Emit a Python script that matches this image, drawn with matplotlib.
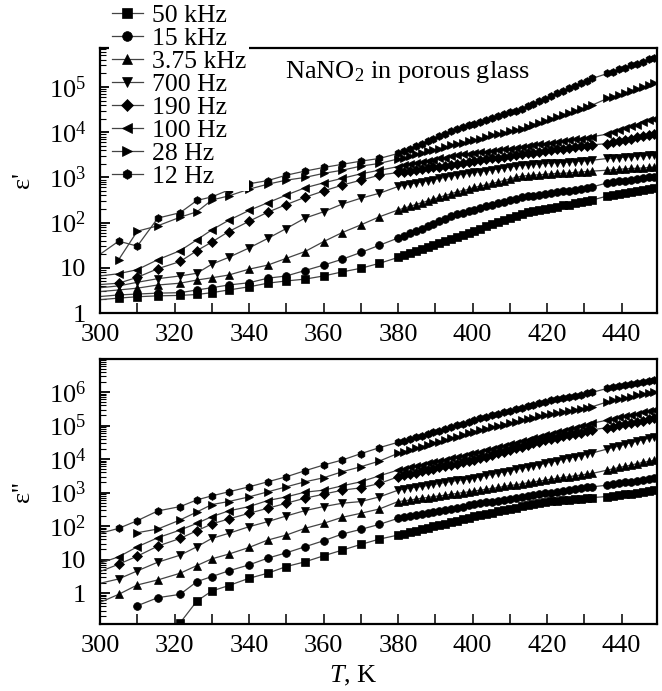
import numpy as np
import matplotlib
matplotlib.use("Agg")
from matplotlib import pyplot as plt
from matplotlib.ticker import MultipleLocator, FixedLocator, LogLocator, NullFormatter, FuncFormatter

nan = np.nan

# temperatures, K (sparse run, then dense run with a gap near 434 K)
T_sparse = [295, 305, 310, 315.5, 321.5, 326, 330, 334.5, 340, 345, 350, 355, 360, 365, 370, 375]
T_dense = [380.0, 381.6, 383.2, 384.7, 386.3, 387.9, 389.5, 391.1, 392.6, 394.2, 395.8,
           397.4, 399.0, 400.5, 402.1, 403.7, 405.3, 406.9, 408.4, 410.0, 411.6, 413.2,
           414.8, 416.3, 417.9, 419.5, 421.1, 422.7, 424.2, 425.8, 427.4, 429.0, 430.6, 432.1,
           436.2, 437.8, 439.4, 440.9, 442.5, 444.1, 445.7, 447.3, 448.8]

labels = ["50 kHz", "15 kHz", "3.75 kHz", "700 Hz", "190 Hz", "100 Hz", "28 Hz", "12 Hz"]
markers = ["s", "o", "^", "v", "D", "<", ">", "h"]

# log10 of eps' (upper panel)
re_50k = [0.26, 0.33, 0.36, 0.38, 0.39, 0.41, 0.45, 0.51, 0.58, 0.66, 0.71, 0.75, 0.82, 0.91, 0.99, 1.10,
          1.23, 1.28, 1.32, 1.37, 1.41, 1.46, 1.50, 1.55, 1.59, 1.64, 1.68, 1.73, 1.77, 1.82, 1.87,
          1.92, 1.96, 2.01, 2.06, 2.11, 2.15, 2.20, 2.23, 2.25, 2.28, 2.30, 2.33, 2.35, 2.38, 2.40,
          2.43, 2.45, 2.48, 2.50, 2.59, 2.61, 2.63, 2.65, 2.68, 2.70, 2.72, 2.74, 2.76]
re_15k = [0.33, 0.40, 0.42, 0.44, 0.45, 0.51, 0.56, 0.62, 0.67, 0.77, 0.82, 0.94, 1.06, 1.19, 1.34, 1.50,
          1.66, 1.71, 1.77, 1.82, 1.87, 1.93, 1.98, 2.03, 2.08, 2.14, 2.19, 2.22, 2.26, 2.29, 2.32,
          2.36, 2.39, 2.43, 2.46, 2.49, 2.53, 2.56, 2.58, 2.60, 2.62, 2.64, 2.66, 2.68, 2.69, 2.71,
          2.73, 2.75, 2.77, 2.79, 2.88, 2.90, 2.92, 2.93, 2.95, 2.97, 2.99, 3.00, 3.02]
re_3k75 = [0.44, 0.51, 0.55, 0.62, 0.66, 0.73, 0.78, 0.84, 0.97, 1.06, 1.21, 1.36, 1.58, 1.78, 1.95, 2.13,
           2.28, 2.32, 2.36, 2.40, 2.44, 2.48, 2.52, 2.56, 2.60, 2.64, 2.68, 2.71, 2.74, 2.78, 2.81,
           2.84, 2.87, 2.90, 2.93, 2.97, 3.00, 3.03, 3.04, 3.05, 3.06, 3.07, 3.08, 3.09, 3.09, 3.10,
           3.11, 3.12, 3.13, 3.14, 3.16, 3.17, 3.18, 3.19, 3.20, 3.20, 3.21, 3.22, 3.23]
re_700 = [0.52, 0.60, 0.68, 0.76, 0.82, 0.88, 1.08, 1.23, 1.44, 1.65, 1.87, 2.10, 2.24, 2.41, 2.54, 2.65,
          2.80, 2.83, 2.85, 2.88, 2.90, 2.93, 2.95, 2.98, 3.00, 3.03, 3.05, 3.07, 3.09, 3.11, 3.13,
          3.15, 3.17, 3.19, 3.21, 3.23, 3.25, 3.27, 3.28, 3.29, 3.30, 3.31, 3.32, 3.33, 3.33, 3.34,
          3.35, 3.36, 3.37, 3.38, 3.42, 3.43, 3.44, 3.45, 3.46, 3.47, 3.48, 3.49, 3.50]
re_190 = [0.60, 0.66, 0.79, 0.98, 1.14, 1.38, 1.57, 1.80, 2.03, 2.23, 2.40, 2.56, 2.70, 2.83, 2.94, 3.05,
          3.11, 3.13, 3.15, 3.17, 3.19, 3.21, 3.22, 3.24, 3.26, 3.28, 3.30, 3.32, 3.34, 3.36, 3.38,
          3.40, 3.42, 3.44, 3.46, 3.48, 3.50, 3.52, 3.54, 3.55, 3.57, 3.59, 3.60, 3.62, 3.64, 3.65,
          3.67, 3.69, 3.70, 3.72, 3.75, 3.78, 3.81, 3.83, 3.86, 3.89, 3.92, 3.94, 3.97]
re_100 = [0.77, 0.87, 0.96, 1.18, 1.38, 1.62, 1.84, 2.05, 2.27, 2.44, 2.61, 2.77, 2.88, 2.98, 3.08, 3.16,
          3.24, 3.27, 3.29, 3.32, 3.34, 3.37, 3.39, 3.42, 3.44, 3.47, 3.49, 3.51, 3.52, 3.54, 3.56,
          3.57, 3.59, 3.60, 3.62, 3.64, 3.65, 3.67, 3.69, 3.71, 3.73, 3.75, 3.77, 3.79, 3.80, 3.82,
          3.84, 3.86, 3.88, 3.90, 3.96, 4.00, 4.05, 4.09, 4.13, 4.17, 4.22, 4.26, 4.30]
re_28 = [nan, 1.18, 1.81, 1.93, 2.12, 2.24, 2.50, 2.59, 2.74, 2.85, 2.94, 3.00, 3.09, 3.16, 3.25, 3.31,
         3.41, 3.44, 3.48, 3.51, 3.54, 3.58, 3.61, 3.64, 3.67, 3.71, 3.74, 3.77, 3.80, 3.83, 3.86,
         3.89, 3.93, 3.96, 3.99, 4.02, 4.05, 4.08, 4.12, 4.17, 4.21, 4.25, 4.30, 4.34, 4.38, 4.43,
         4.47, 4.51, 4.56, 4.60, 4.75, 4.79, 4.83, 4.87, 4.92, 4.96, 5.00, 5.04, 5.08]
re_12 = [1.01, 1.59, 1.48, 2.10, 2.22, 2.49, 2.57, 2.72, 2.86, 2.93, 3.05, 3.14, 3.22, 3.29, 3.36, 3.42,
         3.53, 3.58, 3.64, 3.69, 3.75, 3.80, 3.85, 3.91, 3.96, 4.02, 4.07, 4.11, 4.15, 4.19, 4.23,
         4.27, 4.32, 4.36, 4.40, 4.44, 4.48, 4.52, 4.58, 4.63, 4.69, 4.74, 4.80, 4.86, 4.91, 4.97,
         5.02, 5.08, 5.13, 5.19, 5.30, 5.34, 5.39, 5.43, 5.48, 5.52, 5.56, 5.61, 5.65]

# log10 of eps'' (lower panel)
im_50k = [nan, nan, nan, nan, -0.89, -0.24, 0.06, 0.22, 0.44, 0.59, 0.79, 0.93, 1.11, 1.28, 1.45, 1.61,
          1.73, 1.77, 1.82, 1.86, 1.90, 1.94, 1.99, 2.03, 2.07, 2.12, 2.16, 2.20, 2.24, 2.29, 2.33,
          2.37, 2.40, 2.44, 2.48, 2.51, 2.55, 2.59, 2.62, 2.66, 2.70, 2.73, 2.75, 2.76, 2.78, 2.79,
          2.81, 2.82, 2.84, 2.85, 2.88, 2.90, 2.93, 2.95, 2.97, 3.00, 3.02, 3.04, 3.07]
im_15k = [nan, nan, -0.38, -0.14, -0.04, 0.34, 0.49, 0.66, 0.84, 1.04, 1.20, 1.38, 1.56, 1.76, 1.90, 2.05,
          2.23, 2.26, 2.29, 2.33, 2.36, 2.39, 2.42, 2.45, 2.49, 2.52, 2.55, 2.58, 2.62, 2.65, 2.68,
          2.71, 2.73, 2.76, 2.79, 2.82, 2.84, 2.87, 2.90, 2.93, 2.95, 2.98, 3.00, 3.03, 3.05, 3.08,
          3.10, 3.12, 3.15, 3.17, 3.22, 3.25, 3.27, 3.30, 3.32, 3.35, 3.37, 3.40, 3.42]
im_3k75 = [-0.52, -0.04, 0.24, 0.39, 0.59, 0.82, 1.02, 1.16, 1.36, 1.58, 1.73, 1.93, 2.08, 2.26, 2.38, 2.51,
           2.73, 2.75, 2.78, 2.80, 2.83, 2.85, 2.88, 2.90, 2.92, 2.95, 2.97, 3.00, 3.02, 3.05, 3.07,
           3.10, 3.12, 3.15, 3.18, 3.21, 3.23, 3.26, 3.29, 3.32, 3.34, 3.37, 3.40, 3.42, 3.45, 3.47,
           3.50, 3.52, 3.55, 3.57, 3.67, 3.71, 3.75, 3.78, 3.82, 3.86, 3.90, 3.93, 3.97]
im_700 = [0.16, 0.42, 0.66, 0.92, 1.13, 1.38, 1.63, 1.78, 1.98, 2.13, 2.30, 2.46, 2.58, 2.68, 2.73, 2.87,
          3.07, 3.10, 3.13, 3.16, 3.18, 3.21, 3.24, 3.27, 3.30, 3.33, 3.36, 3.38, 3.41, 3.44, 3.47,
          3.51, 3.54, 3.58, 3.62, 3.65, 3.69, 3.72, 3.76, 3.80, 3.83, 3.87, 3.91, 3.95, 3.99, 4.03,
          4.06, 4.10, 4.14, 4.18, 4.30, 4.35, 4.39, 4.44, 4.49, 4.53, 4.58, 4.62, 4.67]
im_190 = [0.42, 0.86, 1.10, 1.40, 1.63, 1.86, 2.06, 2.21, 2.38, 2.53, 2.68, 2.83, 2.95, 3.07, 3.14, 3.27,
          3.47, 3.51, 3.55, 3.59, 3.63, 3.67, 3.71, 3.75, 3.78, 3.82, 3.86, 3.90, 3.94, 3.98, 4.02,
          4.07, 4.12, 4.17, 4.22, 4.27, 4.32, 4.37, 4.42, 4.47, 4.52, 4.57, 4.61, 4.64, 4.68, 4.72,
          4.76, 4.79, 4.83, 4.87, 4.94, 4.97, 5.01, 5.04, 5.08, 5.11, 5.14, 5.18, 5.21]
im_100 = [0.70, 1.08, 1.38, 1.65, 1.88, 2.08, 2.28, 2.45, 2.58, 2.76, 2.87, 3.01, 3.07, 3.20, 3.32, 3.50,
          3.67, 3.71, 3.75, 3.79, 3.83, 3.87, 3.91, 3.95, 3.98, 4.02, 4.06, 4.10, 4.14, 4.18, 4.22,
          4.27, 4.31, 4.36, 4.40, 4.45, 4.49, 4.54, 4.58, 4.63, 4.67, 4.72, 4.76, 4.81, 4.85, 4.90,
          4.94, 4.98, 5.03, 5.07, 5.16, 5.20, 5.24, 5.27, 5.31, 5.35, 5.39, 5.42, 5.46]
im_28 = [nan, nan, 1.80, 1.91, 2.18, 2.42, 2.64, 2.73, 2.87, 3.02, 3.17, 3.32, 3.44, 3.62, 3.77, 3.94,
         4.17, 4.22, 4.27, 4.32, 4.37, 4.42, 4.47, 4.52, 4.57, 4.62, 4.67, 4.72, 4.77, 4.82, 4.87,
         4.91, 4.95, 4.99, 5.03, 5.07, 5.11, 5.15, 5.19, 5.23, 5.27, 5.31, 5.34, 5.37, 5.40, 5.44,
         5.47, 5.50, 5.53, 5.56, 5.71, 5.75, 5.79, 5.82, 5.86, 5.90, 5.94, 5.97, 6.01]
im_12 = [1.63, 1.93, 2.16, 2.45, 2.58, 2.78, 2.90, 3.02, 3.17, 3.32, 3.47, 3.65, 3.82, 3.97, 4.16, 4.34,
         4.50, 4.55, 4.60, 4.65, 4.70, 4.75, 4.80, 4.85, 4.91, 4.96, 5.01, 5.06, 5.11, 5.16, 5.21,
         5.26, 5.30, 5.35, 5.39, 5.44, 5.48, 5.53, 5.57, 5.62, 5.66, 5.71, 5.75, 5.78, 5.82, 5.85,
         5.89, 5.92, 5.96, 5.99, 6.11, 6.14, 6.17, 6.20, 6.24, 6.27, 6.30, 6.33, 6.36]

re_all = [re_50k, re_15k, re_3k75, re_700, re_190, re_100, re_28, re_12]
im_all = [im_50k, im_15k, im_3k75, im_700, im_190, im_100, im_28, im_12]

plt.rcParams["font.family"] = ["Liberation Serif", "DejaVu Serif"]
plt.rcParams["mathtext.fontset"] = "custom"
plt.rcParams["mathtext.rm"] = "Liberation Serif"
plt.rcParams["mathtext.it"] = "Liberation Serif:italic"
plt.rcParams["mathtext.bf"] = "Liberation Serif:bold"
plt.rcParams["font.size"] = 19

T = np.array(T_sparse + T_dense)

fig = plt.figure(figsize=(6.62, 6.91), dpi=100)
ax1 = fig.add_axes([0.1511, 0.5470, 0.8414, 0.3835])
ax2 = fig.add_axes([0.1511, 0.0970, 0.8414, 0.3835])


def dec_fmt(v, pos):
    if abs(v - 1) < 1e-9:
        return "1"
    if abs(v - 10) < 1e-9:
        return "10"
    return r"$10^{%d}$" % round(np.log10(v))


for ax, data, ylim, majors in [
    (ax1, re_all, (1, 7.3e5), [1, 10, 1e2, 1e3, 1e4, 1e5]),
    (ax2, im_all, (0.119, 9.7e6), [1, 10, 1e2, 1e3, 1e4, 1e5, 1e6]),
]:
    for vals, lab, mk in zip(data, labels, markers):
        ms = 5.0 if mk == "D" else 5.6
        ax.plot(T, 10 ** np.array(vals), color="#444444", lw=0.9, marker=mk, ms=ms,
                mfc="black", mec="black", mew=0.5, label=lab)
    ax.set_yscale("log")
    ax.set_xlim(300, 449.5)
    ax.set_ylim(*ylim)
    ax.xaxis.set_major_locator(MultipleLocator(20))
    ax.xaxis.set_minor_locator(MultipleLocator(10))
    ax.yaxis.set_major_locator(FixedLocator(majors))
    ax.yaxis.set_major_formatter(FuncFormatter(dec_fmt))
    ax.yaxis.set_minor_locator(LogLocator(base=10, subs=range(2, 10), numticks=30))
    ax.yaxis.set_minor_formatter(NullFormatter())
    ax.tick_params(axis="x", which="both", direction="in", length=7, width=1.1, pad=8,
                   top=False, labelsize=19)
    ax.tick_params(axis="y", which="major", direction="in", length=7, width=1.3, pad=10,
                   right=False, labelsize=19)
    ax.tick_params(axis="y", which="minor", direction="in", length=4, width=0.8, right=False)
    for s in ax.spines.values():
        s.set_linewidth(1.6)
    ax.yaxis.set_label_coords(-0.118, 0.5)

ax1.set_ylabel("ε'", fontsize=19)
ax2.set_ylabel("ε''", fontsize=19)
ax2.set_xlabel("$T$, K", fontsize=19)
ax2.xaxis.set_label_coords(0.455, -0.15)

ax1.text(0.332, 0.909, "NaNO$_2$ in porous glass", transform=ax1.transAxes,
         fontsize=19, va="center", ha="left")

leg = ax1.legend(loc="upper left", bbox_to_anchor=(109 / 662, 1 - 1 / 691),
                 bbox_transform=fig.transFigure, borderaxespad=0, borderpad=0.12,
                 handlelength=1.2, handletextpad=0.35, labelspacing=0.0,
                 markerscale=1.25, fontsize=18.5, fancybox=False, framealpha=1,
                 facecolor="white", edgecolor="none")
leg.set_zorder(10)

fig.savefig("out.png", dpi=100)
